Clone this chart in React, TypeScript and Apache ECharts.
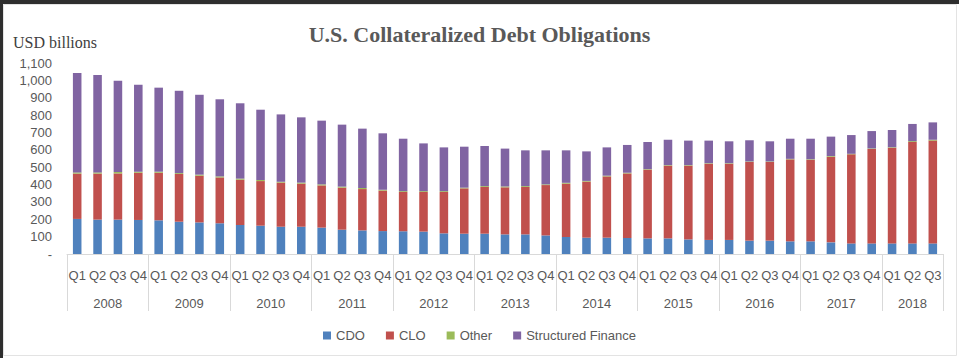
import React, { useEffect, useRef } from 'react';
import * as echarts from 'echarts';

const years = ['2008', '2009', '2010', '2011', '2012', '2013', '2014', '2015', '2016', '2017', '2018'];
const quarterLabels = ['Q1', 'Q2', 'Q3', 'Q4'];
const yTicks = [0, 100, 200, 300, 400, 500, 600, 700, 800, 900, 1000, 1100];

const cdo = [202, 198, 198, 196, 194, 186, 182, 177, 167, 163, 157, 157, 152, 140, 136, 132, 131, 129, 119, 117, 117, 113, 113, 107, 98, 94, 94, 92, 90, 90, 84, 81, 81, 77, 77, 73, 73, 67, 61, 61, 61, 61, 61];
const clo = [261, 265, 266, 272, 274, 275, 269, 264, 261, 257, 254, 248, 243, 242, 238, 233, 226, 228, 238, 261, 269, 271, 273, 290, 307, 323, 353, 372, 396, 419, 425, 439, 439, 453, 453, 472, 470, 493, 513, 544, 551, 584, 592];
const other = [7, 7, 8, 6, 6, 5, 6, 6, 6, 6, 5, 6, 6, 6, 6, 5, 5, 5, 5, 4, 5, 5, 5, 4, 5, 4, 4, 4, 3, 3, 3, 3, 3, 3, 3, 3, 3, 4, 3, 3, 3, 5, 5];
const structuredFinance = [572, 561, 526, 501, 484, 474, 460, 444, 434, 405, 388, 376, 367, 357, 342, 325, 302, 275, 252, 236, 231, 218, 206, 196, 187, 170, 163, 160, 156, 146, 141, 130, 126, 122, 116, 116, 118, 112, 108, 100, 99, 99, 100];

const categories: string[] = [];
years.forEach((y) => quarterLabels.forEach((q) => categories.push(y + ' ' + q)));
categories.length = cdo.length;

const sansFont = '"Liberation Sans", Arial, sans-serif';
const serifFont = '"Liberation Serif", "Times New Roman", serif';
const labelColor = '#595959';

export default function App() {
  const ref = useRef<HTMLDivElement>(null);
  useEffect(() => {
    if (!ref.current) return;
    const chart = echarts.init(ref.current, undefined, { renderer: 'svg' });
    const n = categories.length;
    const yearCenters: Record<string, string> = {};
    years.forEach((y, i) => {
      const start = i * 4;
      const count = Math.min(4, n - start);
      yearCenters[String(start + count / 2)] = y;
    });
    const barSeries = (name: string, data: number[], color: string) => ({
      name,
      type: 'bar',
      stack: 'total',
      data,
      barWidth: '42%',
      itemStyle: { color },
      emphasis: { disabled: true },
    });
    chart.setOption({
      animation: false,
      backgroundColor: '#ffffff',
      title: {
        text: 'U.S. Collateralized Debt Obligations',
        left: 'center',
        top: 18,
        textStyle: { fontFamily: serifFont, fontSize: 22, fontWeight: 'bold', color: '#595959' },
      },
      graphic: [
        { type: 'rect', shape: { x: 0, y: 0, width: 959, height: 4 }, style: { fill: '#2e2e2e' } },
        { type: 'rect', shape: { x: 0, y: 0, width: 3, height: 358 }, style: { fill: '#2e2e2e' } },
        { type: 'rect', shape: { x: 3.5, y: 4.5, width: 953, height: 351 }, style: { fill: 'none', stroke: '#e3e3e3', lineWidth: 1 } },
        {
          type: 'text',
          left: 13,
          top: 34,
          style: { text: 'USD billions', font: '16px ' + serifFont, fill: '#404040' },
        },
      ],
      legend: {
        bottom: 11,
        left: 'center',
        itemWidth: 8,
        itemHeight: 8,
        itemGap: 21,
        icon: 'rect',
        textStyle: { fontFamily: sansFont, fontSize: 13, color: labelColor },
        data: ['CDO', 'CLO', 'Other', 'Structured Finance'],
      },
      grid: { left: 67, right: 16, top: 63, bottom: 104 },
      xAxis: [
        {
          type: 'category',
          data: categories,
          position: 'bottom',
          axisLine: { show: true, lineStyle: { color: '#d9d9d9' } },
          axisTick: {
            show: true,
            alignWithLabel: false,
            interval: (i: number) => i % 4 === 0,
            length: 57,
            lineStyle: { color: '#d9d9d9', width: 1 },
          },
          axisLabel: {
            interval: 0,
            margin: 15,
            fontFamily: sansFont,
            fontSize: 13,
            color: labelColor,
            formatter: (v: string) => v.split(' ')[1],
          },
        },
        {
          type: 'value',
          min: 0,
          max: n,
          interval: 0.5,
          position: 'bottom',
          offset: 0,
          axisLine: { show: false },
          axisTick: { show: false },
          splitLine: { show: false },
          axisLabel: {
            margin: 43,
            fontFamily: sansFont,
            fontSize: 13,
            color: labelColor,
            formatter: (v: number) => yearCenters[String(v)] || '',
          },
        },
      ],
      yAxis: {
        type: 'value',
        min: yTicks[0],
        max: yTicks[yTicks.length - 1],
        interval: 100,
        axisLine: { show: false },
        axisTick: { show: false },
        splitLine: { show: false },
        axisLabel: {
          margin: 15,
          fontFamily: sansFont,
          fontSize: 13,
          color: labelColor,
          formatter: (v: number) => (v === 0 ? '-' : v.toLocaleString('en-US')),
        },
      },
      series: [
        barSeries('CDO', cdo, '#4F81BD'),
        barSeries('CLO', clo, '#C0504D'),
        barSeries('Other', other, '#9BBB59'),
        barSeries('Structured Finance', structuredFinance, '#8064A2'),
      ],
    });
    return () => chart.dispose();
  }, []);
  return (
    <div
      ref={ref}
      style={{ position: 'fixed', left: 0, top: 0, width: 959, height: 358 }}
    />
  );
}
